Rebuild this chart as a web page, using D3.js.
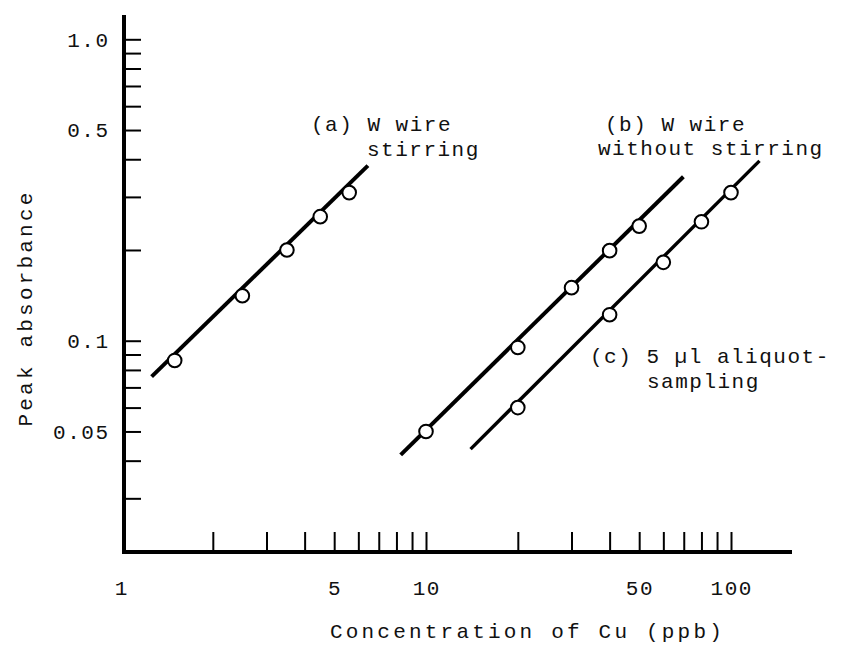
<!DOCTYPE html>
<html>
<head>
<meta charset="utf-8">
<script src="https://cdn.jsdelivr.net/npm/d3@7"></script>
<style>
  html, body { margin: 0; padding: 0; background: #fff; }
  svg { display: block; }
  text { font-family: "Liberation Mono", "DejaVu Sans Mono", monospace; fill: #111; }
</style>
</head>
<body>
<svg id="chart" width="848" height="647"></svg>
<script>
// ---- data ----
const xTickLabels = [1, 5, 10, 50, 100];
const xMinorTicks = [2, 3, 4, 5, 6, 7, 8, 9, 10, 20, 30, 40, 50, 60, 70, 80, 90, 100];
const yTickLabels = [1.0, 0.5, 0.1, 0.05];
const yTickText = ["1.0", "0.5", "0.1", "0.05"];
const yMinorTicks = [1.0, 0.9, 0.8, 0.7, 0.6, 0.5, 0.4, 0.3, 0.2, 0.1, 0.09, 0.08, 0.07, 0.06, 0.05, 0.04, 0.03];

const concA = [1.5, 2.5, 3.5, 4.5, 5.6];
const absA  = [0.086, 0.141, 0.20, 0.258, 0.31];
const concB = [10, 20, 30, 40, 50];
const absB  = [0.050, 0.095, 0.150, 0.199, 0.240];
const concC = [20, 40, 60, 80, 100];
const absC  = [0.060, 0.122, 0.182, 0.248, 0.31];

const fitAx = [1.26, 6.45];  const fitAy = [0.076, 0.381];
const fitBx = [8.26, 69.8];  const fitBy = [0.0418, 0.350];
const fitCx = [14.0, 124];   const fitCy = [0.0437, 0.395];

const labelA = ["(a) W wire", "stirring"];
const labelB = ["(b) W wire", "without stirring"];
const labelC = ["(c) 5 \u00b5l aliquot-", "sampling"];
const xTitle = "Concentration of Cu (ppb)";
const yTitle = "Peak absorbance";

// ---- layout ----
const svg = d3.select("#chart");
const x = d3.scaleLog().domain([1, 100]).range([121, 731]);
const y = d3.scaleLog().domain([0.02, 1]).range([551.4, 39.3]);
const axisX0 = 124, axisY0 = 552, axisXEnd = 792, axisYTop = 15;
const FS = 21, LS = 1.5; // font size / letter spacing (typewriter look)

// x minor ticks (pointing up into the plot)
const gx = svg.append("g").attr("transform", `translate(0,${axisY0})`)
  .call(d3.axisTop(x).tickValues(xMinorTicks).tickSize(20).tickFormat(""));
gx.select(".domain").remove();
gx.selectAll(".tick line").attr("stroke", "#000").attr("stroke-width", 2);

// y ticks (pointing right into the plot)
const gy = svg.append("g").attr("transform", `translate(${axisX0},0)`)
  .call(d3.axisRight(y).tickValues(yMinorTicks).tickSize(17).tickFormat(""));
gy.select(".domain").remove();
gy.selectAll(".tick line").attr("stroke", "#000").attr("stroke-width", 2);

// axis lines
svg.append("path")
  .attr("d", `M${axisX0},${axisYTop}V${axisY0}H${axisXEnd}`)
  .attr("fill", "none").attr("stroke", "#000").attr("stroke-width", 4)
  .attr("stroke-linejoin", "miter");

// x tick labels
svg.append("g").selectAll("text").data(xTickLabels).join("text")
  .attr("x", d => x(d) + LS / 2)
  .attr("y", 595)
  .attr("text-anchor", "middle")
  .attr("font-size", FS)
  .attr("letter-spacing", LS)
  .text(d => String(d));

// y tick labels
svg.append("g").selectAll("text").data(yTickLabels).join("text")
  .attr("x", 108 + LS)
  .attr("y", d => y(d))
  .attr("dy", "0.35em")
  .attr("text-anchor", "end")
  .attr("font-size", FS)
  .attr("letter-spacing", LS)
  .text((d, i) => yTickText[i]);

// axis titles
svg.append("text")
  .attr("x", 526 + 1.5).attr("y", 638)
  .attr("text-anchor", "middle")
  .attr("font-size", FS).attr("letter-spacing", 3.2)
  .text(xTitle);
svg.append("text")
  .attr("transform", `translate(32,${308}) rotate(-90)`)
  .attr("text-anchor", "middle")
  .attr("font-size", FS).attr("letter-spacing", 3.2)
  .text(yTitle);

// fit lines
const line = d3.line().x(d => x(d[0])).y(d => y(d[1]));
const fits = [
  { xs: fitAx, ys: fitAy, w: 4 },
  { xs: fitBx, ys: fitBy, w: 4 },
  { xs: fitCx, ys: fitCy, w: 3.4 }
];
svg.append("g").selectAll("path").data(fits).join("path")
  .attr("d", f => line(f.xs.map((v, i) => [v, f.ys[i]])))
  .attr("fill", "none").attr("stroke", "#000")
  .attr("stroke-width", f => f.w);

// points
const series = [
  { xs: concA, ys: absA },
  { xs: concB, ys: absB },
  { xs: concC, ys: absC }
];
const pts = series.flatMap(s => s.xs.map((v, i) => [v, s.ys[i]]));
svg.append("g").selectAll("circle").data(pts).join("circle")
  .attr("cx", d => x(d[0])).attr("cy", d => y(d[1]))
  .attr("r", 6.8)
  .attr("fill", "#fff").attr("stroke", "#000").attr("stroke-width", 2);

// annotations
function annot(lines, x0, y0, x1, y1) {
  const g = svg.append("g");
  g.append("text").attr("x", x0).attr("y", y0)
    .attr("font-size", FS).attr("letter-spacing", LS)
    .text(lines[0]);
  g.append("text").attr("x", x1).attr("y", y1)
    .attr("font-size", FS).attr("letter-spacing", LS)
    .text(lines[1]);
}
annot(labelA, 311, 131, 367, 156);
annot(labelB, 605, 131, 598, 155);
annot(labelC, 590, 363, 647, 388);
</script>
</body>
</html>
